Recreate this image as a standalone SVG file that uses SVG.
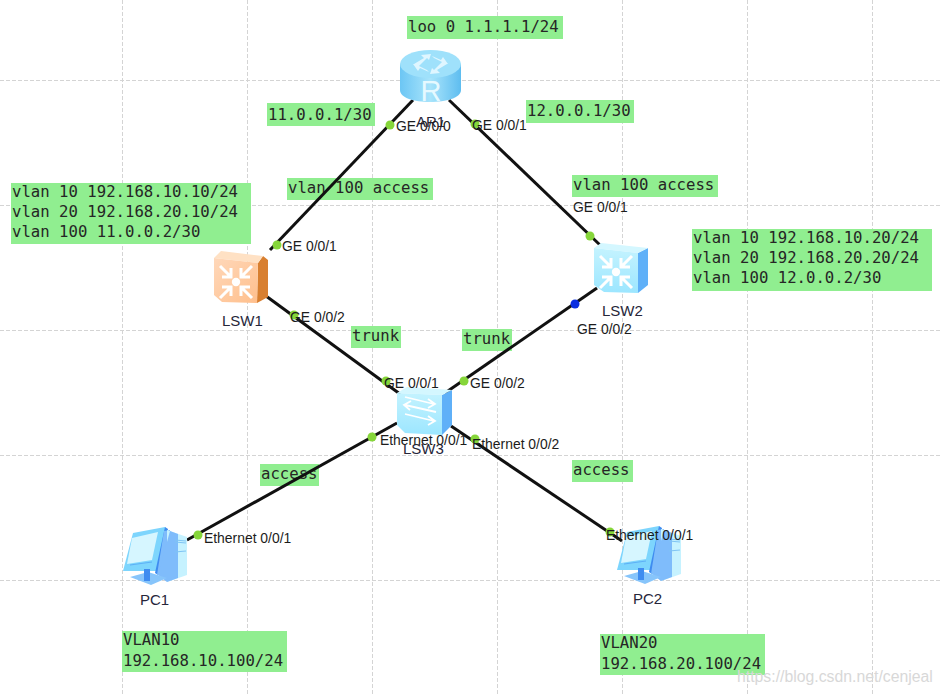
<svg xmlns="http://www.w3.org/2000/svg" width="942" height="694" viewBox="0 0 942 694">
<style>
.grid line{stroke:#d4d4d4;stroke-width:1;stroke-dasharray:4 2}
.conn line{stroke:#111;stroke-width:3}
.dot{fill:#86d63a}
.blue{fill:#0a2ee0}
.note{fill:#90ee90}
.mono{font-family:"DejaVu Sans Mono",monospace;font-size:15.65px;fill:#262626}
.lab{font-family:"Liberation Sans",Arial,sans-serif;font-size:13.9px;fill:#1c1c1c}
.name{font-family:"Liberation Sans",Arial,sans-serif;font-size:15px;fill:#26263a}
.wm{font-family:"Liberation Sans",Arial,sans-serif;font-size:15.8px;fill:#d8d8d8}
</style>
<defs>
<linearGradient id="blueFace" x1="0" y1="0" x2="0" y2="1"><stop offset="0" stop-color="#c4f3ff"/><stop offset="1" stop-color="#9ce6ff"/></linearGradient>
<linearGradient id="orangeFace" x1="0" y1="0" x2="1" y2="1"><stop offset="0" stop-color="#ffd8ba"/><stop offset="1" stop-color="#ffbf8c"/></linearGradient>
<linearGradient id="routerSide" x1="0" y1="0" x2="1" y2="0"><stop offset="0" stop-color="#6cc6f4"/><stop offset="0.5" stop-color="#a8e4fb"/><stop offset="1" stop-color="#5ebdf0"/></linearGradient>
<g id="arrows4" fill="none" stroke="#fff" stroke-width="3">
<path d="M-16-16L-5-5M-5-14V-5H-14M16-16L5-5M5-14V-5H14M-16 16L-5 5M-5 14V5H-14M16 16L5 5M5 14V5H14"/>
<circle cx="0" cy="0" r="4.2" fill="#fff" stroke="none"/>
</g>
<g id="pc">
<path d="M13 8L45 2L47 6L37 46L3 46Z" fill="#7dd5fd"/>
<path d="M12 13L38 7L32 35L7 39Z" fill="#d6f6ff"/>
<path d="M45 2L48 4L38 50L35 48Z" fill="#3f8cf0"/>
<path d="M44 6L50 5L52 52L37 50Z" fill="#7fbcfb"/>
<path d="M47 5L67 12L67 50L47 57Z" fill="#c6f2ff"/>
<path d="M50 6L58 9L58 53L47 57L38 50Z" fill="#7fbcfb"/>
<path d="M10 52L28 47L47 53L31 60Z" fill="#87c5fb"/>
<rect x="24" y="44" width="6" height="12" fill="#3f8cf0"/>
<path d="M55 27L66 26M55 15L66 16M55 17L66 18" stroke="#7fc4f4" stroke-width="1.2"/>
<path d="M10 40L32 37" stroke="#3f8cf0" stroke-width="1" opacity="0.5"/>
</g>
</defs>
<rect width="942" height="694" fill="#fff"/>
<g class="grid">
<line x1="122.500" y1="0" x2="122.500" y2="694"/>
<line x1="247.500" y1="0" x2="247.500" y2="694"/>
<line x1="372.500" y1="0" x2="372.500" y2="694"/>
<line x1="497.500" y1="0" x2="497.500" y2="694"/>
<line x1="622.500" y1="0" x2="622.500" y2="694"/>
<line x1="747.500" y1="0" x2="747.500" y2="694"/>
<line x1="872.500" y1="0" x2="872.500" y2="694"/>
<line x1="0" y1="80.500" x2="942" y2="80.500"/>
<line x1="0" y1="205.500" x2="942" y2="205.500"/>
<line x1="0" y1="330.500" x2="942" y2="330.500"/>
<line x1="0" y1="455.500" x2="942" y2="455.500"/>
<line x1="0" y1="580.500" x2="942" y2="580.500"/>
</g>
<g id="notes">
<rect class="note" x="407" y="16" width="156" height="23"/>
<text class="mono" x="408" y="32">loo 0 1.1.1.1/24</text>
<rect class="note" x="267" y="103" width="108" height="23"/>
<text class="mono" x="268" y="120">11.0.0.1/30</text>
<rect class="note" x="526" y="100" width="108" height="23"/>
<text class="mono" x="527" y="116">12.0.0.1/30</text>
<rect class="note" x="287" y="178" width="146" height="22"/>
<text class="mono" x="288" y="193">vlan 100 access</text>
<rect class="note" x="572" y="175" width="146" height="22"/>
<text class="mono" x="573" y="190">vlan 100 access</text>
<rect class="note" x="11" y="183" width="240" height="61"/>
<text class="mono" x="12" y="197">vlan 10 192.168.10.10/24</text>
<text class="mono" x="12" y="217">vlan 20 192.168.20.10/24</text>
<text class="mono" x="12" y="237">vlan 100 11.0.0.2/30</text>
<rect class="note" x="692" y="229" width="240" height="62"/>
<text class="mono" x="693" y="243">vlan 10 192.168.10.20/24</text>
<text class="mono" x="693" y="263">vlan 20 192.168.20.20/24</text>
<text class="mono" x="693" y="283">vlan 100 12.0.0.2/30</text>
<rect class="note" x="351" y="326" width="50" height="22"/>
<text class="mono" x="352" y="341">trunk</text>
<rect class="note" x="462" y="329" width="50" height="22"/>
<text class="mono" x="463" y="344">trunk</text>
<rect class="note" x="260" y="464" width="59" height="22"/>
<text class="mono" x="261" y="479">access</text>
<rect class="note" x="572" y="460" width="61" height="22"/>
<text class="mono" x="573" y="475">access</text>
<rect class="note" x="122" y="631" width="165" height="41"/>
<text class="mono" x="123" y="645">VLAN10</text>
<text class="mono" x="123" y="666">192.168.10.100/24</text>
<rect class="note" x="600" y="634" width="165" height="41"/>
<text class="mono" x="601" y="648">VLAN20</text>
<text class="mono" x="601" y="669">192.168.20.100/24</text>
</g>
<g class="conn" id="connectors">
<line x1="413" y1="100" x2="270" y2="250"/>
<line x1="449" y1="100" x2="600" y2="245"/>
<line x1="266" y1="296" x2="400" y2="394"/>
<line x1="597" y1="288" x2="445" y2="393"/>
<line x1="397" y1="423" x2="187" y2="540"/>
<line x1="451" y1="426" x2="622" y2="541"/>
</g>
<g id="AR1">
<path d="M400 64V90C400 98 414 102 430 102C446 102 461 98 461 90V64Z" fill="url(#routerSide)"/>
<ellipse cx="430.500" cy="64" rx="30.500" ry="14" fill="#9fe1fb"/>
<path d="M414 64L424 58L421 55L431 54L429 60L427 58L419 66ZM447 64L437 70L440 73L430 74L432 68L434 70L442 62ZM432 56L441 60L443 57L448 64L441 64L442 62L434 58ZM429 72L420 68L418 71L413 64L420 64L419 66L427 70Z" fill="#dff6ff"/>
<text x="431" y="101" text-anchor="middle" font-family="Liberation Sans,sans-serif" font-size="29" fill="#e6f9ff">R</text>
<text class="name" x="416" y="127">AR1</text>
</g>
<g id="LSW1">
<path d="M258 263L263 256L268 260L268 297L257 303Z" fill="#d87f30"/>
<path d="M214 258L221 251L263 256L258 263Z" fill="#ffe1c4"/>
<path d="M214 258L258 263L257 303L222 302L214 295Z" fill="url(#orangeFace)"/>
<use href="#arrows4" x="236" y="282"/>
<text class="name" x="222" y="326">LSW1</text>
</g>
<g id="LSW2">
<path d="M638 253L648 248L648 285L638 293Z" fill="#5fb0f8"/>
<path d="M594 248L601 243L648 248L638 253Z" fill="#d4f7ff"/>
<path d="M594 248L638 253L638 293L604 292L594 285Z" fill="url(#blueFace)"/>
<use href="#arrows4" x="616" y="272"/>
<text class="name" x="602" y="316">LSW2</text>
</g>
<g id="LSW3">
<path d="M442 395L452 390L452 425L442 435Z" fill="#5fb0f8"/>
<path d="M397 393L407 387L452 390L442 395Z" fill="#d4f7ff"/>
<path d="M397 393L442 395L442 435L405 433L397 425Z" fill="url(#blueFace)"/>
<path d="M405 397L434 404M428 399L435 404L428 408M436 412L405 405M411 401L404 405L410 410M405 414L434 421M428 416L435 421L428 425" fill="none" stroke="#fff" stroke-width="1.8"/>
<text class="name" x="403" y="454">LSW3</text>
</g>
<g id="PC1">
<use href="#pc" x="120" y="525"/>
<text class="name" x="140" y="605">PC1</text>
</g>
<g id="PC2">
<use href="#pc" x="614" y="524"/>
<text class="name" x="633" y="604">PC2</text>
</g>
<g id="ports">
<circle class="dot" cx="390" cy="125" r="4.500"/><text class="lab" x="396" y="131">GE 0/0/0</text>
<circle class="dot" cx="475" cy="124" r="4.500"/><text class="lab" x="472" y="130">GE 0/0/1</text>
<circle class="dot" cx="277" cy="245" r="4.500"/><text class="lab" x="282" y="251">GE 0/0/1</text>
<circle class="dot" cx="590" cy="236" r="4.500"/><text class="lab" x="573" y="212">GE 0/0/1</text>
<circle class="dot" cx="294" cy="315" r="4.500"/><text class="lab" x="290" y="322">GE 0/0/2</text>
<circle class="blue" cx="575" cy="304" r="4.500"/><text class="lab" x="577" y="334">GE 0/0/2</text>
<circle class="dot" cx="386" cy="381" r="4.500"/><text class="lab" x="384" y="388">GE 0/0/1</text>
<circle class="dot" cx="464" cy="381" r="4.500"/><text class="lab" x="470" y="388">GE 0/0/2</text>
<circle class="dot" cx="372" cy="437" r="4.500"/><text class="lab" x="380" y="445">Ethernet 0/0/1</text>
<circle class="dot" cx="475" cy="439" r="4.500"/><text class="lab" x="472" y="449">Ethernet 0/0/2</text>
<circle class="dot" cx="198" cy="535" r="4.500"/><text class="lab" x="204" y="543">Ethernet 0/0/1</text>
<circle class="dot" cx="610" cy="532" r="4.500"/><text class="lab" x="606" y="540">Ethernet 0/0/1</text>
</g>
<text class="wm" x="737" y="682">https://blog.csdn.net/cenjeal</text>
</svg>
